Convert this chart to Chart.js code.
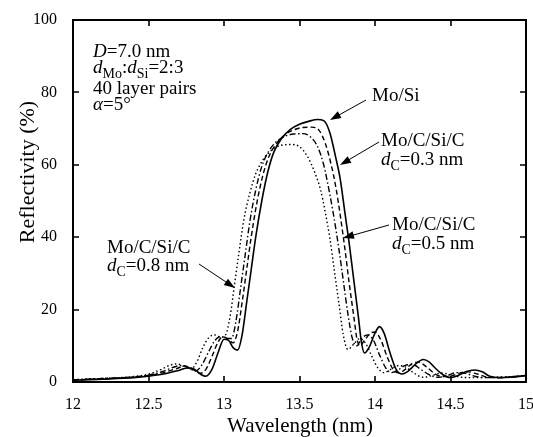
<!DOCTYPE html>
<html>
<head>
<meta charset="utf-8">
<script src="https://cdn.jsdelivr.net/npm/chart.js@4.4.1/dist/chart.umd.min.js"></script>
<style>
  html, body { margin: 0; padding: 0; background: #fff; }
  #wrap { width: 533px; height: 437px; }
  #warm { font-family: "Liberation Serif"; position: absolute; left: -999px; top: 0; }
</style>
</head>
<body>
<span id="warm">Aa <i>Aa</i></span>
<div id="wrap"><canvas id="chart" width="533" height="437"></canvas></div>
<script>
// Axis ticks
const xTicks = [12, 12.5, 13, 13.5, 14, 14.5, 15];
const yTicks = [0, 20, 40, 60, 80, 100];

// Mo/Si (solid)
const moSiWl = [12.0, 12.2, 12.4, 12.5, 12.6, 12.7, 12.76, 12.8, 12.85, 12.88, 12.92, 12.96, 13.0, 13.03, 13.06, 13.09,
  13.12, 13.15, 13.18, 13.21, 13.25, 13.29, 13.33, 13.38, 13.44, 13.5, 13.56, 13.62, 13.66, 13.7, 13.74, 13.77, 13.8,
  13.83, 13.86, 13.89, 13.91, 13.93, 13.96, 14.0, 14.03, 14.06, 14.1, 14.14, 14.18, 14.22, 14.27, 14.32, 14.36, 14.4,
  14.45, 14.5, 14.55, 14.6, 14.66, 14.71, 14.76, 14.82, 14.9, 15.0];
const moSiR = [0.5, 0.8, 1.2, 1.6, 2.2, 3.2, 3.9, 3.6, 2.0, 1.6, 3.5, 8, 11.8, 11.5, 9.5, 8.8,
  13, 22, 31, 40, 50, 58, 63.5, 67.2, 69.8, 71.2, 72, 72.5, 72.2, 69, 62, 56, 47,
  38, 28, 18, 11, 8, 9.5, 13.5, 15.3, 13.5, 8, 3.5, 2.2, 3, 5, 6.2, 5.5, 3.8,
  2, 1.2, 1.8, 2.8, 3.3, 2.8, 1.6, 1.2, 1.3, 1.8];

// Mo/C/Si/C dC = 0.3 nm (dashed)
const c03Wl = [12.0, 12.2, 12.4, 12.5, 12.6, 12.68, 12.74, 12.79, 12.84, 12.88, 12.92, 12.96, 12.99, 13.03, 13.06, 13.09,
  13.12, 13.15, 13.18, 13.22, 13.26, 13.3, 13.35, 13.4, 13.46, 13.52, 13.58, 13.63, 13.67, 13.71, 13.74, 13.77, 13.8,
  13.83, 13.86, 13.88, 13.9, 13.93, 13.97, 14.0, 14.04, 14.08, 14.12, 14.16, 14.2, 14.25, 14.29, 14.34, 14.4, 14.45,
  14.5, 14.57, 14.62, 14.68, 14.74, 14.8, 14.9, 15.0];
const c03R = [0.5, 0.9, 1.3, 1.8, 2.6, 3.6, 4.4, 3.6, 2.4, 3.5, 7, 11, 12.5, 11.8, 10.8, 14,
  22, 31, 40, 50, 57.5, 62.5, 66, 68.2, 69.6, 70.3, 70.4, 69.5, 66, 60, 54, 46, 37,
  27, 18, 12, 10, 11.5, 13.5, 13.8, 11.5, 7, 3.5, 2.5, 3.5, 5.2, 5.5, 4.2, 2.2, 1.5,
  1.6, 2.6, 2.8, 2.2, 1.4, 1.2, 1.4, 1.8];

// Mo/C/Si/C dC = 0.5 nm (dash-dot)
const c05Wl = [12.0, 12.2, 12.4, 12.5, 12.6, 12.66, 12.72, 12.77, 12.81, 12.85, 12.9, 12.94, 12.98, 13.02, 13.05, 13.08,
  13.11, 13.14, 13.17, 13.21, 13.25, 13.3, 13.35, 13.4, 13.46, 13.52, 13.57, 13.62, 13.66, 13.7, 13.73, 13.76, 13.79,
  13.82, 13.85, 13.88, 13.91, 13.95, 13.99, 14.03, 14.07, 14.11, 14.15, 14.2, 14.25, 14.3, 14.36, 14.42, 14.48, 14.54,
  14.6, 14.66, 14.72, 14.8, 14.9, 15.0];
const c05R = [0.6, 1.0, 1.4, 1.9, 3.0, 4.0, 4.6, 3.8, 3.0, 4.5, 8.5, 11.5, 12.6, 12, 12, 17,
  26, 35, 44, 53, 59.5, 64, 66.5, 67.8, 68.5, 68.6, 67.8, 65, 60, 52, 45, 37, 28,
  19, 12, 10, 12, 13, 11.5, 7.5, 4, 2.6, 3.2, 4.6, 4.8, 3.6, 2, 1.3, 1.8, 2.6,
  2.4, 1.6, 1.2, 1.2, 1.4, 1.8];

// Mo/C/Si/C dC = 0.8 nm (dotted)
const c08Wl = [12.0, 12.2, 12.4, 12.5, 12.58, 12.64, 12.69, 12.74, 12.78, 12.82, 12.86, 12.9, 12.94, 12.98, 13.01, 13.04,
  13.07, 13.1, 13.13, 13.17, 13.21, 13.26, 13.32, 13.38, 13.45, 13.5, 13.55, 13.6, 13.64, 13.67, 13.7, 13.73, 13.76,
  13.79, 13.82, 13.86, 13.9, 13.94, 13.98, 14.02, 14.06, 14.1, 14.15, 14.2, 14.26, 14.32, 14.38, 14.44, 14.5, 14.56,
  14.64, 14.75, 14.9, 15.0];
const c08R = [0.6, 1.0, 1.5, 2.2, 3.4, 4.6, 5.0, 4.2, 3.6, 5.5, 9.5, 12.3, 13, 12.4, 13, 18,
  27, 36, 44.5, 52, 57.5, 61.5, 64.2, 65.4, 65.6, 65, 62.5, 58, 53, 47, 40, 31, 22,
  13, 9, 10.5, 12, 10.5, 7, 3.8, 2.6, 3.4, 4.5, 4.2, 2.4, 1.3, 1.8, 2.5, 2.0, 1.4,
  1.2, 1.3, 1.5, 1.8];

const SERIF = '"Liberation Serif", "Times New Roman", "DejaVu Serif", serif';

function toPoints(wl, r) {
    return wl.map((x, i) => ({ x: x, y: r[i] }));
}

function makeSet(label, wl, r, dash, width) {
    return {
        label: label,
        data: toPoints(wl, r),
        borderColor: '#000',
        borderWidth: width,
        borderDash: dash,
        pointRadius: 0,
        fill: false,
        tension: 0.4,
        cubicInterpolationMode: 'monotone'
    };
}

// draw text made of pieces (italic / subscript)
function drawParts(ctx, x, y, parts, size) {
    ctx.textAlign = 'left';
    ctx.textBaseline = 'alphabetic';
    parts.forEach(p => {
        const fs = p.sub ? Math.round(size * 0.76) : size;
        ctx.font = (p.it ? 'italic ' : '') + fs + 'px ' + SERIF;
        ctx.fillText(p.t, x, y + (p.sub ? 5 : 0));
        x += ctx.measureText(p.t).width;
    });
}

function arrow(ctx, x1, y1, x2, y2) {
    const ang = Math.atan2(y2 - y1, x2 - x1);
    const len = 11, half = 3.8;
    ctx.beginPath();
    ctx.moveTo(x1, y1);
    ctx.lineTo(x2 - Math.cos(ang) * len * 0.8, y2 - Math.sin(ang) * len * 0.8);
    ctx.lineWidth = 1;
    ctx.stroke();
    ctx.beginPath();
    ctx.moveTo(x2, y2);
    ctx.lineTo(x2 - Math.cos(ang) * len - Math.sin(ang) * half, y2 - Math.sin(ang) * len + Math.cos(ang) * half);
    ctx.lineTo(x2 - Math.cos(ang) * len + Math.sin(ang) * half, y2 - Math.sin(ang) * len - Math.cos(ang) * half);
    ctx.closePath();
    ctx.fill();
}

const framePlugin = {
    id: 'frame',
    afterDraw(chart) {
        const ctx = chart.ctx;
        const a = chart.chartArea;
        const xs = chart.scales.x, ys = chart.scales.y;
        ctx.save();
        ctx.strokeStyle = '#000';
        ctx.fillStyle = '#000';

        // frame
        ctx.lineWidth = 2;
        ctx.strokeRect(a.left, a.top, a.right - a.left, a.bottom - a.top);

        // inward ticks on all sides
        ctx.lineWidth = 1.6;
        const tl = 6;
        xTicks.slice(1, -1).forEach(v => {
            const px = Math.round(xs.getPixelForValue(v));
            ctx.beginPath();
            ctx.moveTo(px, a.bottom); ctx.lineTo(px, a.bottom - tl);
            ctx.moveTo(px, a.top); ctx.lineTo(px, a.top + tl);
            ctx.stroke();
        });
        yTicks.slice(1, -1).forEach(v => {
            const py = Math.round(ys.getPixelForValue(v));
            ctx.beginPath();
            ctx.moveTo(a.left, py); ctx.lineTo(a.left + tl, py);
            ctx.moveTo(a.right, py); ctx.lineTo(a.right - tl, py);
            ctx.stroke();
        });

        // axis titles
        ctx.font = '21px ' + SERIF;
        ctx.textAlign = 'center';
        ctx.textBaseline = 'middle';
        ctx.fillText('Wavelength (nm)', 300, 426);
        ctx.save();
        ctx.translate(28, 172);
        ctx.rotate(-Math.PI / 2);
        ctx.font = '22px ' + SERIF;
        ctx.fillText('Reflectivity (%)', 0, 0);
        ctx.restore();

        // parameter block
        const fs = 19;
        drawParts(ctx, 93, 57, [{ t: 'D', it: true }, { t: '=7.0 nm' }], fs);
        drawParts(ctx, 93, 73, [{ t: 'd', it: true }, { t: 'Mo', sub: true }, { t: ':' }, { t: 'd', it: true }, { t: 'Si', sub: true }, { t: '=2:3' }], fs);
        drawParts(ctx, 93, 94, [{ t: '40 layer pairs' }], fs);
        drawParts(ctx, 93, 110, [{ t: 'α', it: true }, { t: '=5°' }], fs);

        // curve labels
        drawParts(ctx, 372, 101, [{ t: 'Mo/Si' }], fs);
        arrow(ctx, 366, 100, 330, 120);

        drawParts(ctx, 381, 146, [{ t: 'Mo/C/Si/C' }], fs);
        drawParts(ctx, 381, 165, [{ t: 'd', it: true }, { t: 'C', sub: true }, { t: '=0.3 nm' }], fs);
        arrow(ctx, 379, 142, 340, 165);

        drawParts(ctx, 392, 230, [{ t: 'Mo/C/Si/C' }], fs);
        drawParts(ctx, 392, 249, [{ t: 'd', it: true }, { t: 'C', sub: true }, { t: '=0.5 nm' }], fs);
        arrow(ctx, 389, 225, 343, 238);

        drawParts(ctx, 107, 253, [{ t: 'Mo/C/Si/C' }], fs);
        drawParts(ctx, 107, 271, [{ t: 'd', it: true }, { t: 'C', sub: true }, { t: '=0.8 nm' }], fs);
        arrow(ctx, 199, 264, 235, 288);

        ctx.restore();
    }
};

function buildChart() {
    new Chart(document.getElementById('chart'), {
        type: 'line',
        data: {
            datasets: [
                makeSet('Mo/C/Si/C dC=0.8 nm', c08Wl, c08R, [1.5, 2.5], 1.4),
                makeSet('Mo/C/Si/C dC=0.5 nm', c05Wl, c05R, [6, 2.5, 1.5, 2.5], 1.4),
                makeSet('Mo/C/Si/C dC=0.3 nm', c03Wl, c03R, [5, 3], 1.4),
                makeSet('Mo/Si', moSiWl, moSiR, [], 1.6)
            ]
        },
        options: {
            responsive: false,
            animation: false,
            devicePixelRatio: 1,
            layout: { padding: { top: 20, right: 7, left: 0, bottom: 0 } },
            plugins: {
                legend: { display: false },
                tooltip: { enabled: false }
            },
            scales: {
                x: {
                    type: 'linear',
                    min: 12,
                    max: 15,
                    afterBuildTicks: s => { s.ticks = xTicks.map(v => ({ value: v })); },
                    afterFit: s => { s.height = 55; s.paddingRight = 0; s.paddingLeft = 0; },
                    grid: { display: false },
                    border: { display: false },
                    ticks: {
                        color: '#000',
                        font: { family: SERIF, size: 16 },
                        padding: 5,
                        maxRotation: 0,
                        autoSkip: false,
                        callback: v => String(v)
                    }
                },
                y: {
                    min: 0,
                    max: 100,
                    afterBuildTicks: s => { s.ticks = yTicks.map(v => ({ value: v })); },
                    afterFit: s => { s.width = 73; s.paddingTop = 0; s.paddingBottom = 0; },
                    grid: { display: false },
                    border: { display: false },
                    ticks: {
                        color: '#000',
                        font: { family: SERIF, size: 16 },
                        padding: 8,
                        autoSkip: false,
                        callback: v => String(v)
                    }
                }
            }
        },
        plugins: [framePlugin]
    });
}

// make sure the serif face is ready before drawing on the canvas
Promise.all([
    document.fonts.load('19px "Liberation Serif"'),
    document.fonts.load('italic 19px "Liberation Serif"')
]).then(buildChart, buildChart);
</script>
</body>
</html>
